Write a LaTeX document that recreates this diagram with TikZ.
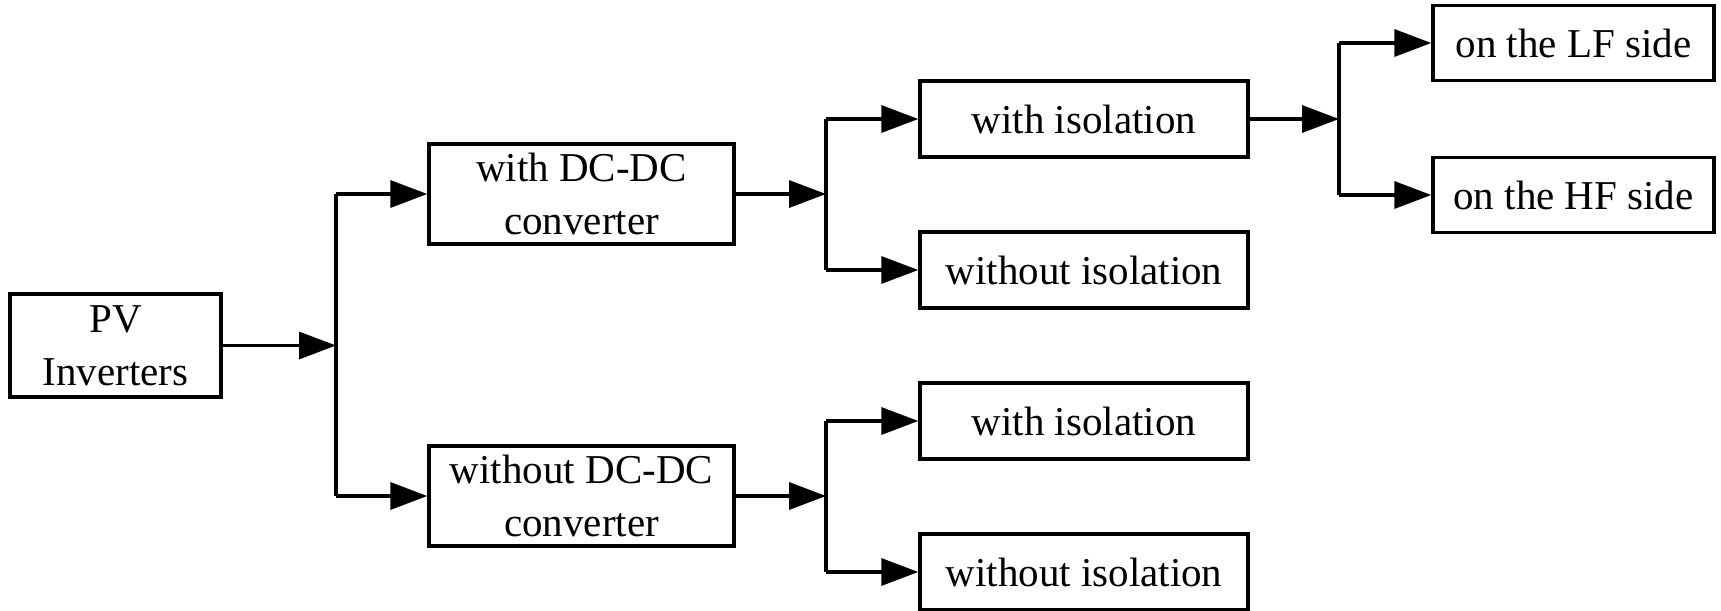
\documentclass[tikz,border=0pt]{standalone}
\usepackage{fontspec}
\setmainfont{Liberation Serif}
\usetikzlibrary{arrows.meta}
\tikzset{
  box/.style={draw, line width=1.7pt, rectangle, inner sep=0pt, align=center,
    font=\fontsize{20.5}{26.5}\selectfont},
  pvbox/.style={box, minimum width=105.5pt, minimum height=51.5pt},
  midbox/.style={box, minimum width=152.5pt, minimum height=50pt},
  isobox/.style={box, minimum width=164pt, minimum height=38pt},
  sidebox/.style={box, minimum width=140.5pt, minimum height=37.5pt},
  wire/.style={line width=1.7pt, line join=miter},
  arr/.style={wire, -{Triangle[length=18.5pt,width=13.5pt]}}
}
\begin{document}
\begin{tikzpicture}[x=0.5pt, y=-0.5pt]
\useasboundingbox (0,0) rectangle (1721,611);

% boxes
\node[pvbox] (pv) at (115.5,345.5) {PV\\Inverters};
\node[midbox] (dc) at (581.5,194) {with DC-DC\\converter};
\node[midbox] (nodc) at (581.5,496) {without DC-DC\\converter};
\node[isobox] (dciso) at (1084,119) {with isolation};
\node[isobox] (dcnoiso) at (1084,270) {without isolation};
\node[isobox] (nodciso) at (1084,421) {with isolation};
\node[isobox] (nodcnoiso) at (1084,572) {without isolation};
\node[sidebox] (lf) at (1573.5,43) {on the LF side};
\node[sidebox] (hf) at (1573.5,195) {on the HF side};

% branching points
\coordinate (j1) at (336,345.5);
\coordinate (j1a) at (336,194);
\coordinate (j1b) at (336,496);
\coordinate (j2) at (826,194);
\coordinate (j2a) at (826,119);
\coordinate (j2b) at (826,270);
\coordinate (j3) at (826,496);
\coordinate (j3a) at (826,421);
\coordinate (j3b) at (826,572);
\coordinate (j4) at (1339,119);
\coordinate (j4a) at (1339,43);
\coordinate (j4b) at (1339,195);

% connectors
\draw[arr] (pv) -- (j1);
\draw[wire] (j1a) -- (j1b);
\draw[arr] (j1a) -- (dc);
\draw[arr] (j1b) -- (nodc);

\draw[arr] (dc) -- (j2);
\draw[wire] (j2a) -- (j2b);
\draw[arr] (j2a) -- (dciso);
\draw[arr] (j2b) -- (dcnoiso);

\draw[arr] (nodc) -- (j3);
\draw[wire] (j3a) -- (j3b);
\draw[arr] (j3a) -- (nodciso);
\draw[arr] (j3b) -- (nodcnoiso);

\draw[arr] (dciso) -- (j4);
\draw[wire] (j4a) -- (j4b);
\draw[arr] (j4a) -- (lf);
\draw[arr] (j4b) -- (hf);
\end{tikzpicture}
\end{document}
